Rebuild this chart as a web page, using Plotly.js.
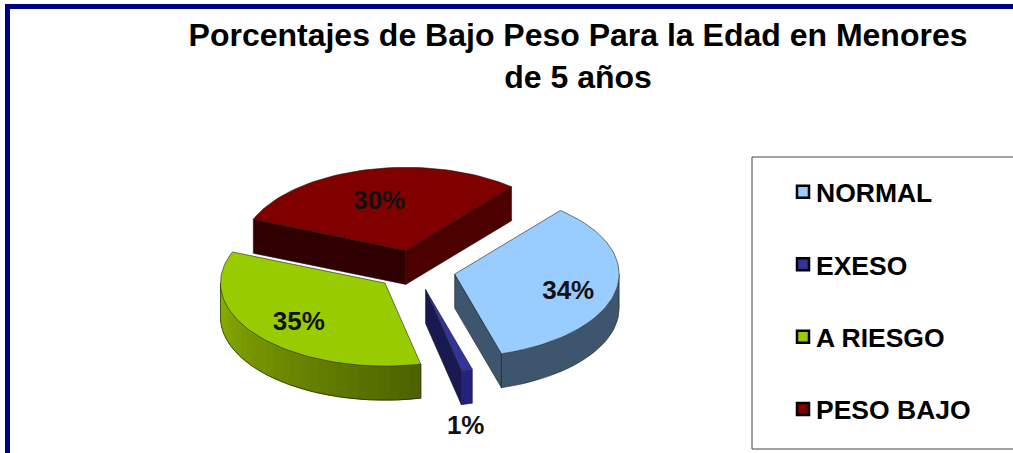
<!DOCTYPE html>
<html>
<head>
<meta charset="utf-8">
<script src="https://cdn.plot.ly/plotly-3.0.1.min.js"></script>
<style>html,body{margin:0;padding:0;background:#fff;overflow:hidden}</style>
</head>
<body>
<div id="chart" style="width:1013px;height:453px"></div>
<script>
const categories = ['NORMAL', 'EXESO', 'A RIESGO', 'PESO BAJO'];
const percentages = [34.3, 1.1, 34.6, 30];
const topColors = ['#99CCFF', '#333399', '#99CC00', '#800000'];
const outerFrom = ['#3E556E', '#23237F', '#8CB000', '#4D0000'];
const outerTo = ['#3E556E', '#23237F', '#4E6300', '#4D0000'];
const startFace = ['#3E556E', '#191952', '#5B7500', '#300000'];
const endFace = ['#3E556E', '#191952', '#5B7500', '#4D0000'];
const labelRadius = [156, 200, 153, 150];
const labelDrop = [6, 60, 4, 6];
const drawOrder = [3, 2, 0, 1];

// projection of the tilted pie
const CX = 415.5, CY = 270, R = 164.5, TILT = 0.505, DEPTH = 34, PULL = 40, START = 40;
const rad = d => d * Math.PI / 180;
const px = (a, r) => r * Math.sin(rad(a));
const py = (a, r) => -TILT * r * Math.cos(rad(a));
const hex = c => [1, 3, 5].map(i => parseInt(c.substr(i, 2), 16));
const mix = (a, b, t) => { const p = hex(a), q = hex(b);
  return 'rgb(' + p.map((v, i) => Math.round(v + (q[i] - v) * t)).join(',') + ')'; };

const total = percentages.reduce((s, v) => s + v, 0);
let acc = START;
const slices = percentages.map((v, i) => {
  const a0 = acc, a1 = acc + v / total * 360; acc = a1;
  const mid = (a0 + a1) / 2;
  return { i, a0, a1, mid, ox: CX + px(mid, PULL), oy: CY + py(mid, PULL) };
});

const data = [];
const poly = (xs, ys, fill, line, w) => data.push({
  type: 'scatter', mode: 'lines', x: xs, y: ys, fill: 'toself', fillcolor: fill,
  line: { color: line, width: w === undefined ? 1 : w, shape: 'linear' },
  showlegend: false, hoverinfo: 'skip'
});
const EDGE = 'rgba(20,20,20,0.55)';

drawOrder.forEach(k => {
  const s = slices[k];
  // radial side faces
  [[s.a0, startFace[k], Math.sin(rad(s.a0)) < 0], [s.a1, endFace[k], Math.sin(rad(s.a1)) > 0]].forEach(([a, col, vis]) => {
    if (!vis) return;
    const ex = s.ox + px(a, R), ey = s.oy + py(a, R);
    poly([s.ox, ex, ex, s.ox, s.ox], [s.oy, ey, ey + DEPTH, s.oy + DEPTH, s.oy], col, EDGE);
  });
  // outer curved wall, shaded left-to-right
  const lo = Math.max(s.a0, 90), hi = Math.min(s.a1, 270);
  if (hi > lo) {
    const n = outerFrom[k] === outerTo[k] ? 1 : 28;
    const steps = Math.max(4, Math.ceil((hi - lo) / 3));
    for (let g = 0; g < n; g++) {
      const b0 = hi - (hi - lo) * g / n, b1 = hi - (hi - lo) * (g + 1) / n;
      const xs = [], ys = [];
      for (let j = 0; j <= steps; j++) { const a = b0 + (b1 - b0) * j / steps; xs.push(s.ox + px(a, R)); ys.push(s.oy + py(a, R)); }
      for (let j = steps; j >= 0; j--) { const a = b0 + (b1 - b0) * j / steps; xs.push(s.ox + px(a, R)); ys.push(s.oy + py(a, R) + DEPTH); }
      xs.push(xs[0]); ys.push(ys[0]);
      const col = mix(outerFrom[k], outerTo[k], n === 1 ? 0 : g / (n - 1));
      poly(xs, ys, col, col, n === 1 ? 0 : 1);
    }
    const xs = [], ys = [];
    const m = Math.ceil((hi - lo) / 2);
    for (let j = 0; j <= m; j++) { const a = lo + (hi - lo) * j / m; xs.push(s.ox + px(a, R)); ys.push(s.oy + py(a, R) + DEPTH); }
    data.push({ type: 'scatter', mode: 'lines', x: xs, y: ys, line: { color: EDGE, width: 1 }, showlegend: false, hoverinfo: 'skip' });
    data.push({ type: 'scatter', mode: 'lines',
      x: [s.ox + px(lo, R), s.ox + px(lo, R)], y: [s.oy + py(lo, R), s.oy + py(lo, R) + DEPTH],
      line: { color: EDGE, width: 1 }, showlegend: false, hoverinfo: 'skip' });
    data.push({ type: 'scatter', mode: 'lines',
      x: [s.ox + px(hi, R), s.ox + px(hi, R)], y: [s.oy + py(hi, R), s.oy + py(hi, R) + DEPTH],
      line: { color: EDGE, width: 1 }, showlegend: false, hoverinfo: 'skip' });
  }
  // top surface
  const tx = [s.ox], ty = [s.oy];
  const m = Math.max(4, Math.ceil((s.a1 - s.a0) / 2));
  for (let j = 0; j <= m; j++) { const a = s.a0 + (s.a1 - s.a0) * j / m; tx.push(s.ox + px(a, R)); ty.push(s.oy + py(a, R)); }
  tx.push(s.ox); ty.push(s.oy);
  poly(tx, ty, topColors[k], EDGE);
});

// percentage labels
data.push({
  type: 'scatter', mode: 'text',
  x: slices.map((s, i) => CX + px(s.mid, labelRadius[i])),
  y: slices.map((s, i) => CY + py(s.mid, labelRadius[i]) + labelDrop[i]),
  text: percentages.map(v => Math.round(v) + '%'),
  textposition: 'middle center',
  textfont: { family: 'Liberation Sans, Arial, sans-serif', size: 26, color: '#111', weight: 700 },
  showlegend: false, hoverinfo: 'skip', cliponaxis: false
});

// legend entries
categories.forEach((c, i) => data.push({
  type: 'scatter', mode: 'markers', x: [null], y: [null], name: c, legendgroup: c,
  marker: { symbol: 'square', size: 12, color: topColors[i], line: { color: '#000', width: 2.5 } },
  hoverinfo: 'skip'
}));

const layout = {
  width: 1013, height: 453,
  margin: { l: 0, r: 0, t: 0, b: 0 },
  paper_bgcolor: '#fff', plot_bgcolor: '#fff',
  xaxis: { range: [0, 1013], visible: false, fixedrange: true },
  yaxis: { range: [453, 0], visible: false, fixedrange: true },
  title: {
    text: 'Porcentajes de Bajo Peso Para la Edad en Menores<br>de 5 años',
    x: 0.5706, xanchor: 'center', xref: 'paper',
    y: 1 - 46 / 453, yanchor: 'top', yref: 'paper',
    font: { family: 'Liberation Sans, Arial, sans-serif', size: 32, color: '#000', weight: 700 }
  },
  showlegend: true,
  legend: {
    x: 776 / 1013, xanchor: 'left', y: 1 - 168 / 453, yanchor: 'top',
    bgcolor: 'rgba(0,0,0,0)', borderwidth: 0, traceorder: 'grouped',
    tracegroupgap: 35, itemclick: false, itemdoubleclick: false,
    font: { family: 'Liberation Sans, Arial, sans-serif', size: 26.5, color: '#000', weight: 700 }
  },
  shapes: [
    { type: 'rect', xref: 'x', yref: 'y', x0: 752, x1: 1100, y0: 157, y1: 449, line: { color: '#444', width: 1 }, fillcolor: 'rgba(0,0,0,0)', layer: 'below' },
    { type: 'rect', xref: 'x', yref: 'y', x0: 7.5, x1: 1100, y0: 6.5, y1: 600, line: { color: '#000080', width: 5 }, fillcolor: 'rgba(0,0,0,0)', layer: 'above' }
  ]
};
Plotly.newPlot('chart', data, layout, { displayModeBar: false }).then(() => {
  // legend swatches sit closer to their text in the reference
  document.querySelectorAll('.legend .legendpoints').forEach(g => g.setAttribute('transform', 'translate(7,0)'));
});
</script>
</body>
</html>
